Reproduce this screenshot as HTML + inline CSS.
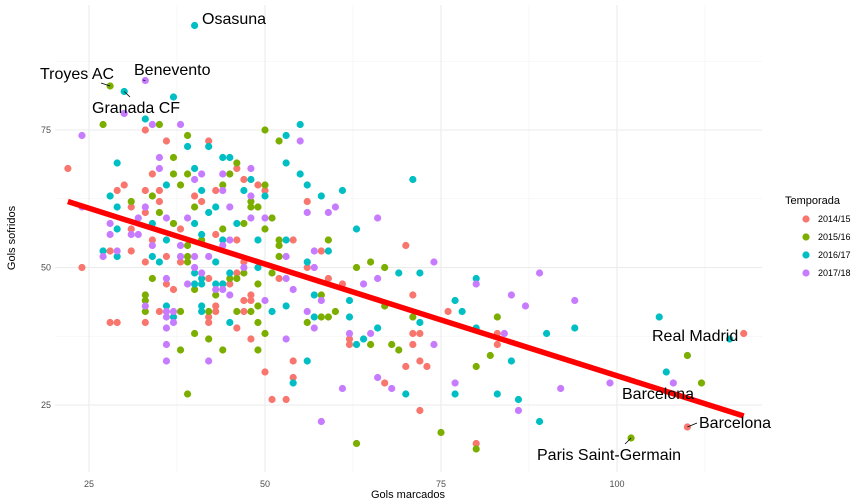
<!DOCTYPE html>
<html><head><meta charset="utf-8"><style>
html,body{margin:0;padding:0;background:#fff;}
svg{display:block;font-family:"Liberation Sans",sans-serif;}
</style></head><body>
<svg id="chart" width="864" height="504"></svg>
<script>
const seasons=["2014/15","2015/16","2016/17","2017/18"];
const colors=["#F8766D","#7CAE00","#00BFC4","#C77CFF"];
const xTicks=[25,50,75,100];
const yTicks=[25,50,75];
const red=[[22,68],[33,75],[36,73],[42,73],[46,68],[34,67],[47,66],[30,65],[29,64],[33,64],[35,64],[43,64],[49,65],[50,64],[40,63],[35,62],[41,62],[31,61],[33,60],[56,62],[31,57],[38,57],[34,55],[43,56],[46,55],[54,55],[31,53],[28,53],[33,51],[36,52],[38,51],[24,50],[47,51],[46,49],[56,50],[36,47],[44,47],[52,48],[37,46],[42,48],[45,47],[48,45],[47,44],[48,44],[43,43],[43,42],[35,42],[28,40],[29,40],[33,40],[42,41],[42,40],[47,42],[46,39],[48,37],[54,33],[50,31],[54,30],[51,26],[53,26],[59,48],[61,47],[62,37],[62,36],[58,53],[70,54],[71,45],[76,42],[71,38],[72,38],[71,36],[83,38],[83,36],[70,32],[72,33],[73,32],[67,29],[72,24],[80,18],[118,38],[110,21]];
const green=[[27,76],[35,76],[39,74],[50,75],[52,73],[37,70],[46,69],[37,67],[39,67],[45,67],[38,65],[50,65],[44,65],[34,63],[31,62],[48,62],[35,60],[40,61],[48,61],[49,61],[51,59],[37,58],[47,58],[50,57],[44,57],[52,55],[52,54],[39,54],[41,55],[39,52],[39,51],[52,52],[47,49],[45,48],[51,49],[34,48],[49,47],[40,46],[33,45],[33,44],[33,42],[38,42],[42,42],[43,45],[46,48],[49,43],[46,42],[48,42],[49,40],[40,38],[50,38],[42,37],[38,35],[44,35],[49,35],[39,27],[58,45],[56,40],[58,41],[59,41],[60,42],[59,55],[63,50],[65,51],[67,50],[67,43],[71,41],[83,41],[65,36],[68,36],[69,35],[80,32],[82,34],[75,20],[63,18],[80,17],[102,19],[110,34],[112,29],[28,83]];
const teal=[[30,82],[37,81],[33,77],[55,76],[53,74],[39,72],[42,72],[29,69],[44,70],[45,70],[40,68],[53,69],[55,67],[48,66],[36,65],[41,64],[47,64],[56,65],[28,63],[50,63],[29,61],[43,61],[42,60],[29,57],[34,58],[40,58],[46,58],[36,55],[41,56],[44,55],[49,55],[53,55],[27,53],[29,52],[34,52],[35,51],[40,49],[43,51],[45,49],[49,50],[56,51],[41,47],[44,47],[41,48],[40,47],[43,47],[36,43],[37,41],[41,43],[41,42],[45,40],[51,42],[53,43],[57,45],[57,41],[62,44],[62,41],[56,33],[54,29],[58,63],[61,64],[71,66],[63,57],[59,53],[69,49],[72,49],[80,48],[77,44],[78,42],[72,40],[66,39],[64,37],[63,36],[80,39],[90,38],[94,39],[106,41],[116,37],[85,33],[107,31],[70,27],[77,27],[83,27],[86,26],[89,22],[40,94]];
const purple=[[30,78],[34,76],[38,76],[24,74],[55,73],[35,70],[35,68],[41,67],[44,67],[48,68],[40,66],[44,64],[48,63],[24,61],[33,61],[45,61],[32,59],[36,59],[39,59],[48,59],[50,59],[28,58],[28,56],[31,56],[32,56],[34,54],[38,54],[44,54],[45,55],[27,52],[29,53],[38,52],[40,52],[42,52],[53,52],[57,53],[40,50],[41,49],[47,50],[53,48],[39,47],[44,46],[54,46],[36,48],[43,46],[45,45],[50,44],[33,43],[36,42],[37,42],[36,41],[37,40],[36,39],[36,36],[36,33],[42,33],[53,37],[56,42],[58,44],[57,39],[62,38],[61,28],[58,22],[56,60],[59,60],[60,61],[66,59],[57,50],[74,51],[64,47],[66,48],[80,47],[85,45],[89,49],[87,43],[94,44],[65,38],[84,38],[74,36],[66,30],[68,28],[77,29],[92,28],[99,29],[108,29],[86,24],[33,84]];
const seriesData=[red,green,teal,purple];
const fitX=[22,118];
const fitY=[62,23];
const labels=[["Osasuna",40,94],["Troyes AC",28,83],["Benevento",33,84],["Granada CF",30,82],["Real Madrid",116,37],["Barcelona",108,29],["Barcelona",110,21],["Paris Saint-Germain",102,19]];

const NS="http://www.w3.org/2000/svg";
const svg=document.getElementById('chart');
const X=v=>89+(v-25)*7.04;
const Y=v=>405-(v-25)*5.5;
function mk(t,a,p){const e=document.createElementNS(NS,t);for(const k in a)e.setAttribute(k,a[k]);(p||svg).appendChild(e);return e;}
const L=55,R=762,T=5,B=472;
// minor grid
[12.5,37.5,62.5,87.5,112.5].forEach(v=>{const x=X(v);if(x>L&&x<R){const g=mk('line',{x1:x,x2:x,y1:T,y2:B,stroke:'#F2F2F2','stroke-width':0.6});}});
[12.5,37.5,62.5,87.5].forEach(v=>{const y=Y(v);if(y>T&&y<B){const g=mk('line',{x1:L,x2:R,y1:y,y2:y,stroke:'#F2F2F2','stroke-width':0.6});}});
xTicks.forEach(v=>{const x=X(v);const g=mk('line',{x1:x,x2:x,y1:T,y2:B,stroke:'#EBEBEB','stroke-width':1.1});
const t=mk('text',{x:x,y:487,'text-anchor':'middle','font-size':9,fill:'#4D4D4D'});t.textContent=v;});
yTicks.forEach(v=>{const y=Y(v);const g=mk('line',{x1:L,x2:R,y1:y,y2:y,stroke:'#EBEBEB','stroke-width':1.1});
const t=mk('text',{x:51,y:y+3,'text-anchor':'end','font-size':9,fill:'#4D4D4D'});t.textContent=v;});
seriesData.forEach((arr,i)=>{arr.forEach(p=>{const c=mk('circle',{cx:X(p[0]),cy:Y(p[1]),r:3.6,fill:colors[i]});

});});
const fl=mk('line',{x1:X(fitX[0]),y1:Y(fitY[0]),x2:X(fitX[1]),y2:Y(fitY[1]),stroke:'#FF0000','stroke-width':5.5});


// labels
const lp=[[202,24,'start'],[40,79,'start'],[134,75,'start'],[92,113,'start'],[652,341,'start'],[622,399,'start'],[699,428,'start'],[537,460,'start']];
const seg=[null,[101,83],[143,80],[130,97],null,null,[697,423],[625,444]];
labels.forEach((l,i)=>{if(seg[i]){const s=mk('line',{x1:X(l[1]),y1:Y(l[2]),x2:seg[i][0],y2:seg[i][1],stroke:'#000','stroke-width':0.8});}
const t=mk('text',{x:lp[i][0],y:lp[i][1],'font-size':16,fill:'#000'});t.textContent=l[0];

});
const xt=mk('text',{x:408,y:498,'text-anchor':'middle','font-size':11,fill:'#000'});xt.textContent='Gols marcados';
const yt=mk('text',{x:15,y:238,'text-anchor':'middle','font-size':11,fill:'#000',transform:'rotate(-90 15 238)'});yt.textContent='Gols sofridos';
const lt=mk('text',{x:785,y:204,'font-size':11,fill:'#000'});lt.textContent='Temporada';
seasons.forEach((s,i)=>{const y=219+i*18;const g=mk('g',{});
mk('circle',{cx:806,cy:y,r:3.6,fill:colors[i]},g);const t=mk('text',{x:818,y:y+3,'font-size':9,fill:'#000'},g);t.textContent=s;});
</script>
</body></html>
